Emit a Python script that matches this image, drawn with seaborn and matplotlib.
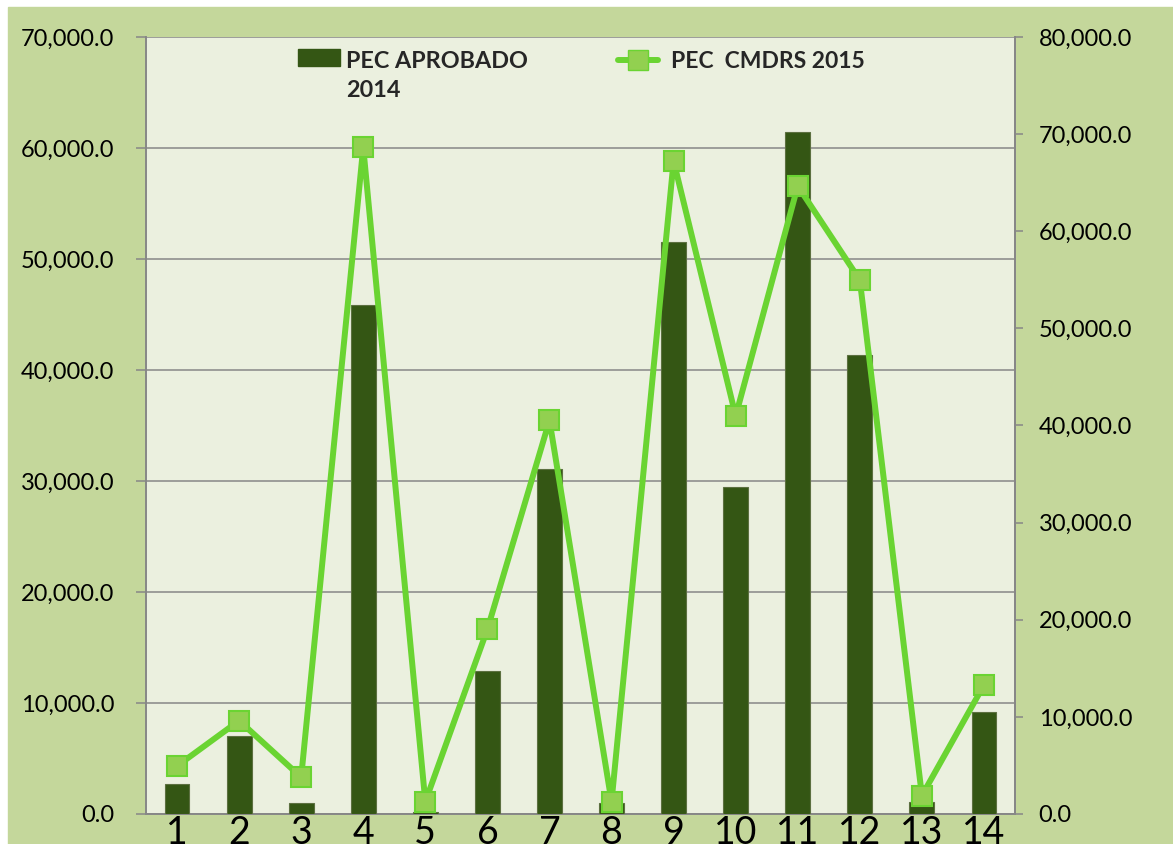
import numpy as np
import pandas as pd
import matplotlib
matplotlib.use("Agg")
import matplotlib.pyplot as plt
from matplotlib.patches import Rectangle, Patch
from matplotlib.lines import Line2D
from matplotlib.legend_handler import HandlerPatch
import seaborn as sns

# Данные с графика
categorias = [str(i) for i in range(1, 15)]
pec_aprobado_2014 = [2680, 7030, 960, 45860, 200, 12910, 31110, 1000,
                     51500, 29460, 61470, 41350, 1100, 9160]
pec_cmdrs_2015 = [4940, 9610, 3780, 68640, 1270, 19020, 40530, 1270,
                  67230, 40980, 64660, 54980, 1890, 13280]
ticks_izq = list(range(0, 70001, 10000))
ticks_der = list(range(0, 80001, 10000))

df = pd.DataFrame({"cat": categorias,
                   "aprobado": pec_aprobado_2014,
                   "pos": np.arange(len(categorias)),
                   "cmdrs": pec_cmdrs_2015})

# Цвета
fondo = "#c4d79b"
area = "#ebf0df"
verde_osc = "#345614"
verde_lin = "#6ad432"
verde_mark = "#92d050"
gris = "#878787"

sns.set_theme(style="white")
plt.rcParams["font.family"] = ["Lato", "DejaVu Sans"]

fig = plt.figure(figsize=(11.73, 8.44), dpi=100, facecolor="white")
# зелёный фон с белой полосой сверху и слева
fondo_rect = Rectangle((8 / 1173, 0), 1, 1 - 7 / 844,
                       transform=fig.transFigure, color=fondo, zorder=-10)
fig.add_artist(fondo_rect)
ax = fig.add_axes([146 / 1173, 1 - 814 / 844, 869 / 1173, 777 / 844])
ax.set_facecolor(area)

# Столбцы
sns.barplot(data=df, x="cat", y="aprobado", ax=ax, color=verde_osc,
            width=0.4, saturation=1, edgecolor="#5c7040", linewidth=0.8,
            zorder=3)
ax.set_ylim(0, 70000)
ax.set_xlim(-0.5, len(categorias) - 0.5)
ax.set_yticks(ticks_izq)
ax.set_yticklabels([f"{v:,.1f}" for v in ticks_izq], fontsize=17)
ax.yaxis.grid(True, color=gris, linewidth=1.1)
ax.set_axisbelow(True)
ax.set_xlabel("")
ax.set_ylabel("")
ax.tick_params(axis="y", length=7, width=1.1, color=gris, pad=16, left=True,
               labelcolor="black")
ax.tick_params(axis="x", length=0, pad=1, labelsize=27, labelcolor="black")
for lado in ["left", "right", "bottom"]:
    ax.spines[lado].set_color(gris)
    ax.spines[lado].set_linewidth(1.4)
ax.spines["top"].set_visible(False)

# Линия на правой оси
ax2 = ax.twinx()
sns.lineplot(data=df, x="pos", y="cmdrs", ax=ax2, color=verde_lin,
             linewidth=4.3, marker="s", markersize=14,
             markerfacecolor=verde_mark, markeredgecolor=verde_lin,
             markeredgewidth=1.5, zorder=4)
ax2.set_ylim(0, 80000)
ax2.set_xlim(-0.5, len(categorias) - 0.5)
ax2.set_yticks(ticks_der)
ax2.set_yticklabels([f"{v:,.1f}" for v in ticks_der], fontsize=17)
ax2.set_ylabel("")
ax2.set_xlabel("")
ax2.tick_params(axis="y", length=6, width=1.1, color=gris, pad=11, right=True,
                labelcolor="black")
for lado in ax2.spines:
    ax2.spines[lado].set_visible(False)
ax2.spines["right"].set_visible(True)
ax2.spines["right"].set_color(gris)
ax2.spines["right"].set_linewidth(1.4)


# прямоугольник легенды на уровне первой строки
def barra_arriba(legend, orig_handle, xdescent, ydescent, width, height,
                 fontsize):
    return Rectangle((-xdescent, -ydescent + 0.8 * fontsize), width, height)


# Легенда
h1 = Patch(facecolor=verde_osc, edgecolor=verde_osc)
h2 = Line2D([], [], color=verde_lin, linewidth=4.3, marker="s", markersize=14,
            markerfacecolor=verde_mark, markeredgecolor=verde_lin)
leg1 = ax2.legend([h1], ["PEC APROBADO\n2014"], loc="upper left",
                  bbox_to_anchor=(0.162, 0.997), frameon=False,
                  prop={"weight": "bold", "size": 16.8}, handlelength=1.8,
                  handleheight=0.75, handletextpad=0.25, borderpad=0,
                  labelspacing=0,
                  handler_map={Patch: HandlerPatch(patch_func=barra_arriba)})
leg1.get_texts()[0].set_linespacing(1.5)
ax2.add_artist(leg1)
ax2.legend([h2], ["PEC  CMDRS 2015"], loc="upper left",
           bbox_to_anchor=(0.53, 0.997), frameon=False,
           prop={"weight": "bold", "size": 16.5}, handlelength=1.75,
           handletextpad=0.55, borderpad=0)

fig.savefig("out.png", dpi=100, facecolor=fig.get_facecolor())
